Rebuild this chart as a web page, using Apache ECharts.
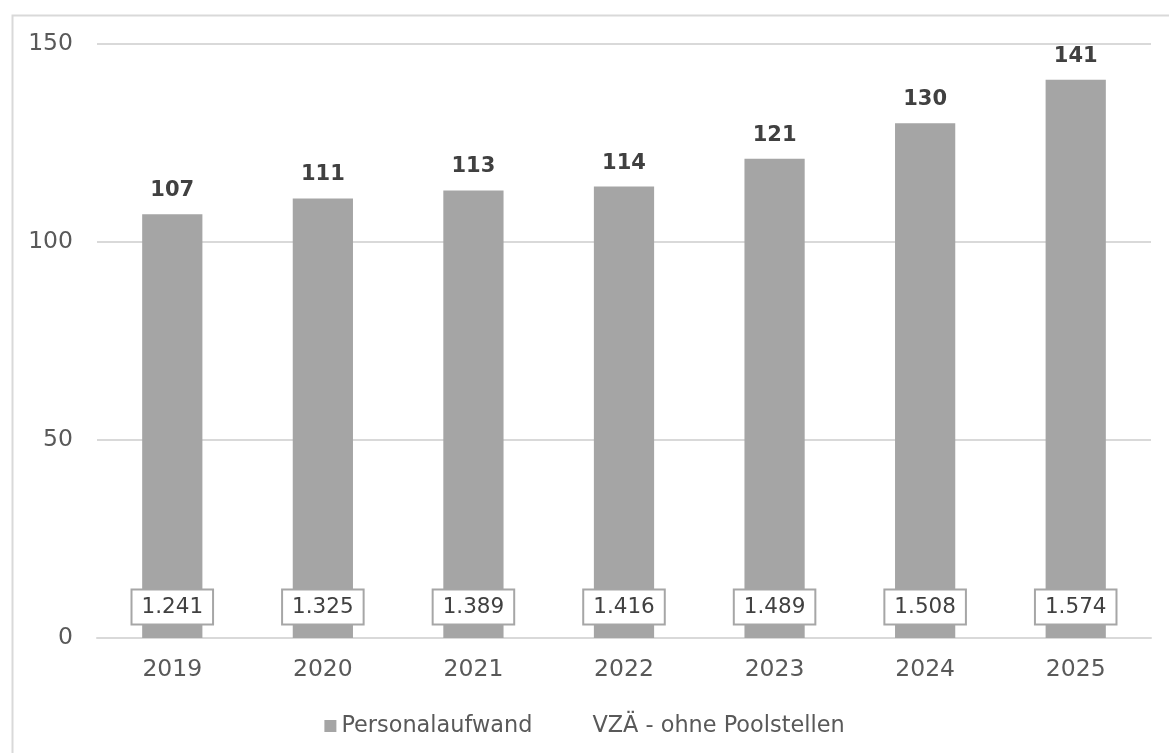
<!DOCTYPE html>
<html>
<head>
<meta charset="utf-8">
<script src="https://cdn.jsdelivr.net/npm/echarts@6/dist/echarts.min.js"></script>
<style>
html,body{margin:0;padding:0;background:#fff;}
#chart{width:1169px;height:753px;}
</style>
</head>
<body>
<div id="chart"></div>
<script>
var years = ['2019', '2020', '2021', '2022', '2023', '2024', '2025'];
var personalaufwand = [107, 111, 113, 114, 121, 130, 141];
var vza = [1241, 1325, 1389, 1416, 1489, 1508, 1574];
var yTicks = [0, 50, 100, 150];

var FONT = '"DejaVu Sans", Verdana, sans-serif';
function fmtDe(v) {
  var s = String(Math.round(v));
  return s.replace(/\B(?=(\d{3})+(?!\d))/g, '.');
}

var chart = echarts.init(document.getElementById('chart'));
chart.setOption({
  animation: false,
  backgroundColor: '#ffffff',
  graphic: [{
    type: 'rect',
    left: 10, top: 13,
    shape: { x: 0, y: 0, width: 1170, height: 750 },
    style: { fill: 'none', stroke: '#d9d9d9', lineWidth: 2 },
    silent: true
  }],
  grid: { left: 97, right: 18, top: 44, bottom: 115, containLabel: false },
  legend: {
    top: 710,
    left: 'center',
    itemWidth: 12, itemHeight: 12,
    itemGap: 43,
    textStyle: { fontFamily: FONT, fontSize: 22.4, color: '#595959' },
    data: [
      { name: 'Personalaufwand', icon: 'rect' },
      { name: 'VZÄ - ohne Poolstellen', icon: 'rect', itemStyle: { color: 'rgba(0,0,0,0)', borderWidth: 0 } }
    ]
  },
  xAxis: {
    type: 'category',
    data: years,
    axisLine: { show: true, lineStyle: { color: '#d9d9d9', width: 2 } },
    axisTick: { show: false },
    axisLabel: { fontFamily: FONT, fontSize: 23.5, color: '#595959', margin: 20 }
  },
  yAxis: [{
    type: 'value',
    min: yTicks[0], max: yTicks[yTicks.length - 1], interval: 50,
    axisLine: { show: false },
    axisTick: { show: false },
    splitLine: { lineStyle: { color: '#d9d9d9', width: 2 } },
    axisLabel: { fontFamily: FONT, fontSize: 23.5, color: '#595959', margin: 24 }
  }, {
    type: 'value',
    min: 0, max: 2000,
    show: false,
    splitLine: { show: false }
  }],
  series: [{
    name: 'Personalaufwand',
    type: 'bar',
    data: personalaufwand,
    barWidth: '40%',
    itemStyle: { color: '#a5a5a5' },
    label: {
      show: true,
      position: 'top',
      distance: 13,
      fontFamily: FONT,
      fontSize: 21,
      fontWeight: 'bold',
      color: '#404040'
    }
  }, {
    name: 'VZÄ - ohne Poolstellen',
    type: 'line',
    yAxisIndex: 1,
    data: vza,
    symbol: 'circle',
    symbolSize: 1,
    itemStyle: { color: 'rgba(0,0,0,0)' },
    lineStyle: { opacity: 0, width: 0 },
    z: 5,
    label: {
      show: true,
      position: 'inside',
      formatter: function (p) { return fmtDe(p.value); },
      fontFamily: FONT,
      fontSize: 21.5,
      color: '#404040',
      backgroundColor: '#ffffff',
      borderColor: '#a6a6a6',
      borderWidth: 2,
      padding: [6, 9, 5, 9]
    },
    labelLayout: { y: 607, verticalAlign: 'middle', align: 'center' }
  }]
});
</script>
</body>
</html>
